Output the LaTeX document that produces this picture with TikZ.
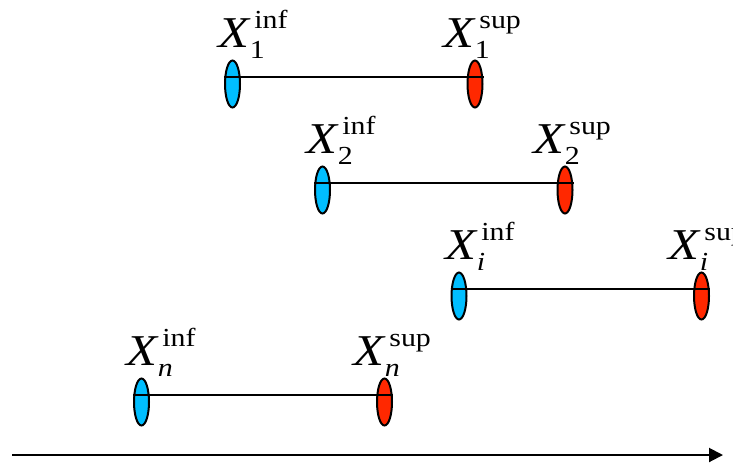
\documentclass[tikz,border=0pt]{standalone}
\usepackage{fontspec}
\setmainfont{Liberation Serif}
\usetikzlibrary{shapes.geometric,arrows.meta}

\definecolor{infblue}{RGB}{0,190,255}
\definecolor{supred}{RGB}{255,40,0}

\newcommand{\bndsize}{\fontsize{13}{14}\selectfont}
\newcommand{\bnd}[2]{\scalebox{1.15}[1]{\textit{X}\kern-0.5pt\rlap{\kern2pt\raisebox{9.5pt}{\bndsize #2}}\raisebox{-5.5pt}{\bndsize #1}}}

\begin{document}
\begin{tikzpicture}[x=0.5pt, y=-0.5pt,
  infend/.style={ellipse, draw, line width=1pt, fill=infblue,
    minimum width=7.5pt, minimum height=23.5pt, inner sep=0pt},
  supend/.style={infend, fill=supred},
  bndlab/.style={anchor=base west, inner sep=0pt, font=\fontsize{22}{26}\selectfont},
  span/.style={line width=0.8pt}]

\useasboundingbox (0,0) rectangle (733,462);

% interval 1
\node[infend] (i1) at (232.5, 84) {};
\node[supend] (s1) at (475.0, 84) {};
\node[bndlab] (li1) at (218, 47) {\bnd{1}{inf}};
\node[bndlab] (ls1) at (443, 47) {\bnd{1}{sup}};
\draw[span] ([yshift=3.5pt]i1.west) -- ([yshift=3.5pt]s1.east);

% interval 2
\node[infend] (i2) at (322.5, 190) {};
\node[supend] (s2) at (565.0, 190) {};
\node[bndlab] (li2) at (306, 153) {\bnd{2}{inf}};
\node[bndlab] (ls2) at (533, 153) {\bnd{2}{sup}};
\draw[span] ([yshift=3.5pt]i2.west) -- ([yshift=3.5pt]s2.east);

% interval i
\node[infend] (ii) at (459.0, 296) {};
\node[supend] (si) at (701.5, 296) {};
\node[bndlab] (lii) at (445, 259) {\bnd{\textit{i}}{inf}};
\node[bndlab] (lsi) at (668, 259) {\bnd{\textit{i}}{sup}};
\draw[span] ([yshift=3.5pt]ii.west) -- ([yshift=3.5pt]si.east);

% interval n
\node[infend] (in) at (141.5, 402) {};
\node[supend] (sn) at (384.5, 402) {};
\node[bndlab] (lin) at (126, 365) {\bnd{\textit{n}}{inf}};
\node[bndlab] (lsn) at (353, 365) {\bnd{\textit{n}}{sup}};
\draw[span] ([yshift=3.5pt]in.west) -- ([yshift=3.5pt]sn.east);

% axis
\coordinate (ax0) at (12, 455);
\coordinate (ax1) at (723, 455);
\draw[line width=1pt, -{Triangle[length=7pt, width=7pt]}] (ax0) -- (ax1);

\end{tikzpicture}
\end{document}
